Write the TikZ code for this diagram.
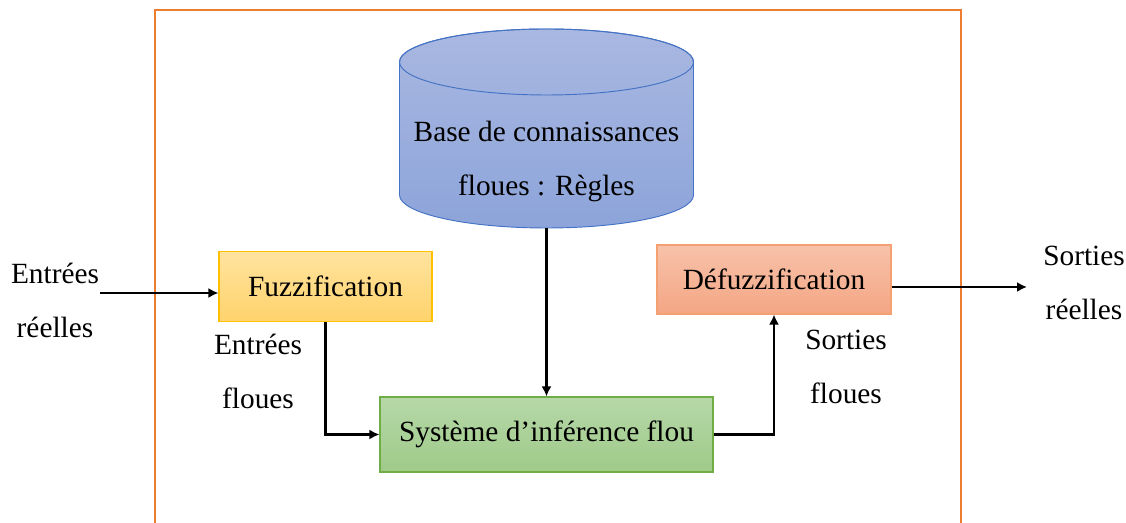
\documentclass[tikz,border=0pt]{standalone}
\usepackage{fontspec}
\setmainfont{Liberation Serif}
\usetikzlibrary{arrows.meta,calc}
\definecolor{frameor}{HTML}{ED7D31}
\definecolor{cyltop}{HTML}{A9B8E1}
\definecolor{cylbot}{HTML}{8DA4DA}
\definecolor{cyldraw}{HTML}{4472C4}
\definecolor{fuztop}{HTML}{FFE39E}
\definecolor{fuzbot}{HTML}{FFD36C}
\definecolor{fuzdraw}{HTML}{FFC000}
\definecolor{deftop}{HTML}{F7C2AA}
\definecolor{defbot}{HTML}{F4A684}
\definecolor{defdraw}{HTML}{F4A070}
\definecolor{systop}{HTML}{B6D8A8}
\definecolor{sysbot}{HTML}{9FCA89}
\definecolor{sysdraw}{HTML}{70AD47}
\tikzset{
  txt/.style={font=\fontsize{22}{40.5}\selectfont, align=center, inner sep=0pt},
  boxfuz/.style={txt, draw=fuzdraw, line width=0.8pt, top color=fuztop, bottom color=fuzbot, minimum width=213*0.75pt, minimum height=70*0.75pt},
  boxdef/.style={txt, draw=defdraw, line width=0.8pt, top color=deftop, bottom color=defbot, minimum width=234*0.75pt, minimum height=69*0.75pt},
  boxsys/.style={txt, draw=sysdraw, line width=0.8pt, top color=systop, bottom color=sysbot, minimum width=333*0.75pt, minimum height=75*0.75pt},
  arr/.style={line width=1.9pt, -{Latex[length=7.5pt,width=7.5pt]}},
}
\begin{document}
\begin{tikzpicture}[x=0.75pt,y=0.75pt]
\useasboundingbox (0,0) rectangle (1126,523);
% frame
\draw[frameor, line width=1.5pt] (155,0) -- (155,513) -- (961,513) -- (961,0);
% cylinder
\path[draw=cyldraw, line width=0.7pt, top color=cyltop, bottom color=cylbot]
  (399.5,461) -- (399.5,328) arc[x radius=147, y radius=33, start angle=180, end angle=360]
  -- (693.5,461) arc[x radius=147, y radius=33, start angle=0, end angle=180] -- cycle;
\draw[cyldraw, line width=0.7pt] (546.5,461) ellipse[x radius=147, y radius=33];
\node[txt] (base) at (546.5,362) {Base de connaissances\\floues : Règles};
\coordinate (basebot) at (546.5,295);
% boxes
\node[boxfuz] (fuz) at (325.5,236.5) {Fuzzification};
\node[boxdef] (def) at (774,243.5) {Défuzzification};
\node[boxsys] (sys) at (546.5,88.5) {Système d’inférence flou};
% connectors
\coordinate (inL) at (100,230);
\coordinate (outR) at (1027,236);
\draw[arr] (inL) -- (inL -| fuz.west);
\draw[arr] (fuz.south) |- (sys.west);
\draw[arr] (basebot) -- (sys.north);
\draw[arr] (sys.east) -| (def.south);
\draw[arr] (outR -| def.east) -- (outR);
% labels
\node[txt] (l1) at (55,223) {Entrées\\réelles};
\node[txt] (l2) at (258,151.5) {Entrées\\floues};
\node[txt] (l3) at (846,156.5) {Sorties\\floues};
\node[txt] (l4) at (1084,240) {Sorties\\réelles};
\end{tikzpicture}
\end{document}
